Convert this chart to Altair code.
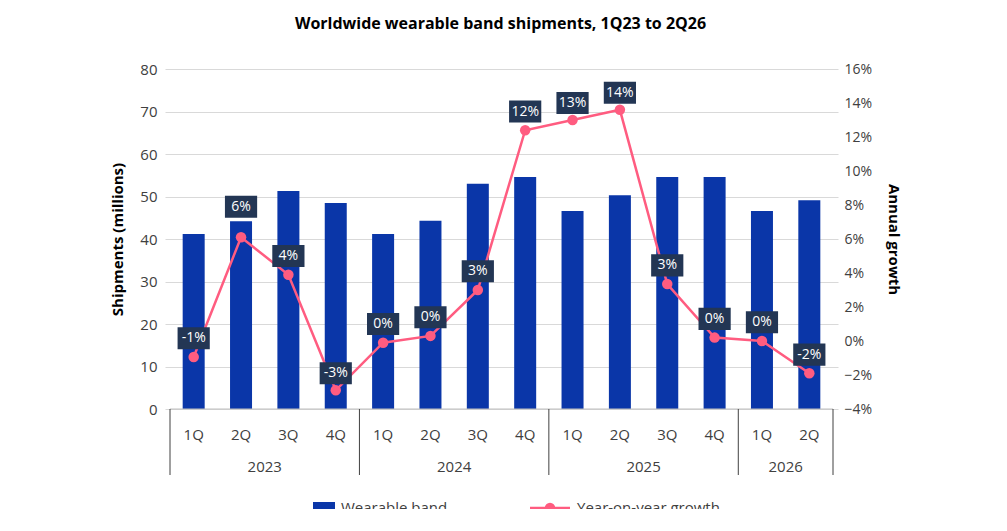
import pandas as pd
import altair as alt

quarters = ["1Q", "2Q", "3Q", "4Q"] * 3 + ["1Q", "2Q"]
years = ["2023"] * 4 + ["2024"] * 4 + ["2025"] * 4 + ["2026"] * 2
shipments = [41.2, 44.2, 51.3, 48.5, 41.2, 44.3, 53.0, 54.6, 46.6, 50.3, 54.6, 54.6, 46.6, 49.1]
growth = [-0.0094, 0.061, 0.039, -0.029, -0.001, 0.003, 0.030, 0.124, 0.130, 0.136, 0.0335, 0.002, 0.000, -0.019]
growth_labels = ["-1%", "6%", "4%", "-3%", "0%", "0%", "3%", "12%", "13%", "14%", "3%", "0%", "0%", "-2%"]
label_lift = [0.011, 0.018, 0.011, 0.010, 0.011, 0.011, 0.011, 0.011, 0.010, 0.010, 0.011, 0.011, 0.011, 0.011]

year_names = ["2023", "2024", "2025", "2026"]
year_mid = [1.5, 5.5, 9.5, 12.5]
year_edges = [-0.5, 3.5, 7.5, 11.5, 13.5]

FONT = "Open Sans"
BAR = "#0a36a8"
LINE = "#ff5c80"
BOX = "#233654"

df = pd.DataFrame({
    "i": list(range(len(quarters))), "q": quarters, "year": years,
    "ship": shipments, "g": growth, "lab": growth_labels,
})
df["gy"] = df["g"] + pd.Series(label_lift)
df["gy1"] = df["gy"] - 0.0065
df["gy2"] = df["gy"] + 0.0065
df["x1"] = df["i"] - 0.34
df["x2"] = df["i"] + 0.34

xs = alt.Scale(domain=[-0.5, 13.5], nice=False, zero=False)
X = alt.X("i:Q", scale=xs, axis=None)
gs = alt.Scale(domain=[-0.04, 0.16], nice=False, zero=False)
base = alt.Chart(df)

bars = base.mark_bar(color=BAR, size=22).encode(
    x=X,
    y=alt.Y("ship:Q", scale=alt.Scale(domain=[0, 80]),
            axis=alt.Axis(values=list(range(0, 81, 10)), title="Shipments (millions)",
                          titleFontWeight="bold", titleFontSize=15, labelFontSize=15,
                          titlePadding=14, domain=False, ticks=False, labelPadding=8,
                          gridColor="#d9d9d9")),
)
baseline = alt.Chart(pd.DataFrame({"a": [-0.5], "b": [13.5]})).mark_rule(
    color="#bfbfbf").encode(x=alt.X("a:Q", scale=xs, axis=None), x2="b:Q", y=alt.value(340))

line = base.mark_line(color=LINE, strokeWidth=2.5).encode(
    x=X,
    y=alt.Y("g:Q", scale=gs,
            axis=alt.Axis(values=[v / 100 for v in range(-4, 17, 2)], format=".0%",
                          title="Annual growth", titleFontWeight="bold", titleFontSize=15,
                          labelFontSize=14, titlePadding=14, domain=False, ticks=False,
                          grid=False, orient="right", labelPadding=6)),
)
pts = base.mark_circle(color=LINE, size=110, opacity=1).encode(
    x=X, y=alt.Y("g:Q", scale=gs, axis=None))
boxes = base.mark_rect(color=BOX).encode(
    x=alt.X("x1:Q", scale=xs, axis=None), x2="x2:Q",
    y=alt.Y("gy1:Q", scale=gs, axis=None), y2="gy2:Q")
texts = base.mark_text(color="white", fontSize=14, font=FONT).encode(
    x=X, y=alt.Y("gy:Q", scale=gs, axis=None), text="lab:N")

qlab = base.mark_text(fontSize=15, font=FONT, color="#404040").encode(
    x=X, y=alt.value(366), text="q:N")
ylab = alt.Chart(pd.DataFrame({"i": year_mid, "t": year_names})).mark_text(
    fontSize=15, font=FONT, color="#404040").encode(
    x=alt.X("i:Q", scale=xs, axis=None), y=alt.value(398), text="t:N")
seps = alt.Chart(pd.DataFrame({"i": year_edges})).mark_rule(color="#404040").encode(
    x=alt.X("i:Q", scale=xs, axis=None), y=alt.value(340), y2=alt.value(406))

one = pd.DataFrame({"k": [0]})
leg_sw = alt.Chart(one).mark_rect(color=BAR).encode(
    x=alt.value(148), x2=alt.value(170), y=alt.value(433), y2=alt.value(445))
leg_ln = alt.Chart(one).mark_rule(color=LINE, strokeWidth=2.5).encode(
    x=alt.value(365), x2=alt.value(405), y=alt.value(439))
leg_pt = alt.Chart(one).mark_circle(color=LINE, size=110, opacity=1).encode(
    x=alt.value(385), y=alt.value(439))
leg_t1 = alt.Chart(one).mark_text(align="left", fontSize=15, font=FONT, color="#404040",
                                  text="Wearable band").encode(x=alt.value(176), y=alt.value(439))
leg_t2 = alt.Chart(one).mark_text(align="left", fontSize=15, font=FONT, color="#404040",
                                  text="Year-on-year growth").encode(x=alt.value(412), y=alt.value(439))

chart = alt.layer(
    bars, line, pts, boxes, texts, baseline, qlab, ylab, seps,
    leg_sw, leg_ln, leg_pt, leg_t1, leg_t2,
).resolve_scale(y="independent").properties(
    width=673, height=340, autosize=alt.AutoSizeParams(type="none"),
    padding={"left": 157, "top": 61, "right": 160, "bottom": 100},
    title=alt.TitleParams("Worldwide wearable band shipments, 1Q23 to 2Q26", fontSize=16,
                          font=FONT, fontWeight="bold", anchor="middle", offset=30, dx=-1),
).configure_view(strokeWidth=0).configure_axis(labelFont=FONT, titleFont=FONT, labelColor="#404040",
                                                titleColor="#000000")

chart.save("out.html", embed_options={"renderer": "svg", "actions": False})
